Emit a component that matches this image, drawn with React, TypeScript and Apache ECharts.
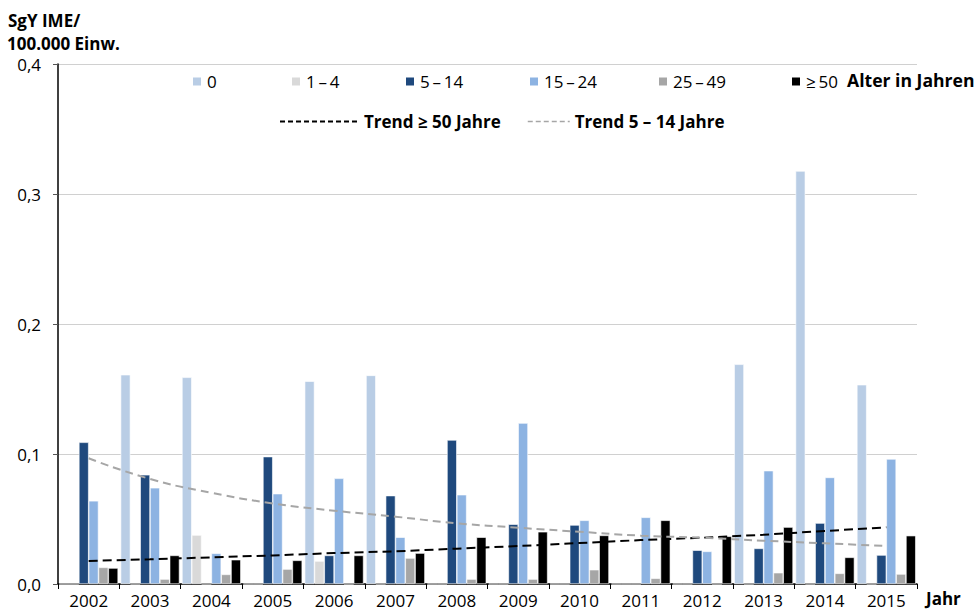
import React, { useEffect, useRef } from "react";
import * as echarts from "echarts";

const years = ["2002", "2003", "2004", "2005", "2006", "2007", "2008", "2009", "2010", "2011", "2012", "2013", "2014", "2015"];
const age0 = [0, 0.161, 0.159, 0, 0.156, 0.1605, 0, 0, 0, 0, 0, 0.169, 0.3177, 0.1533];
const age1to4 = [0, 0, 0.0377, 0, 0.0177, 0, 0, 0, 0, 0, 0, 0, 0, 0];
const age5to14 = [0.109, 0.084, 0, 0.098, 0.022, 0.068, 0.1108, 0.046, 0.0454, 0, 0.026, 0.0274, 0.0469, 0.0223];
const age15to24 = [0.064, 0.074, 0.0236, 0.0695, 0.0813, 0.036, 0.0687, 0.1238, 0.049, 0.0513, 0.0251, 0.0872, 0.082, 0.0962];
const age25to49 = [0.0128, 0.0038, 0.0074, 0.0115, 0, 0.02, 0.0038, 0.0038, 0.011, 0.0044, 0, 0.0087, 0.0082, 0.0077];
const age50plus = [0.0123, 0.022, 0.0187, 0.0182, 0.022, 0.0238, 0.036, 0.0402, 0.0374, 0.049, 0.0367, 0.0438, 0.0205, 0.0372];
const trend50 = [0.0177, 0.019, 0.0205, 0.022, 0.0238, 0.0251, 0.0272, 0.0292, 0.0315, 0.0338, 0.0356, 0.0379, 0.0408, 0.0436];
const trend5to14 = [0.0967, 0.0808, 0.0702, 0.062, 0.0564, 0.0518, 0.0467, 0.0433, 0.0402, 0.0372, 0.0356, 0.0333, 0.0313, 0.0292];
const yTicks = [0, 0.1, 0.2, 0.3, 0.4];

const barNames = ["0", "1\u2009–\u20094", "5\u2009–\u200914", "15\u2009–\u200924", "25\u2009–\u200949", "≥\u200950"];
const barData = [age0, age1to4, age5to14, age15to24, age25to49, age50plus];
const barColors = ["#b9cde5", "#d9d9d9", "#1f497d", "#8db3e2", "#a6a6a6", "#000000"];
const legendLeft = [191, 290, 404, 528, 657, 790];
const trendNames = ["Trend ≥ 50 Jahre", "Trend 5 – 14 Jahre"];

const FONT = "'Open Sans', 'Noto Sans', sans-serif";

export default function App() {
  const ref = useRef<HTMLDivElement>(null);
  useEffect(() => {
    if (!ref.current) return;
    const chart = echarts.init(ref.current, undefined, { renderer: "svg" });
    const barSeries = barNames.map((name, i) => ({
      name,
      type: "bar",
      data: barData[i],
      barGap: "0%",
      barCategoryGap: "4%",
      itemStyle: { color: barColors[i], borderColor: "#ffffff", borderWidth: 0.6 },
      z: 2,
    }));
    const legends: any[] = barNames.map((name, i) => ({
      left: legendLeft[i],
      top: 73,
      padding: 0,
      itemWidth: 10,
      itemHeight: 10,
      icon: "rect",
      data: [name],
      selectedMode: false,
      textStyle: { fontFamily: FONT, fontSize: 17, color: "#000" },
    }));
    legends.push({
      left: 279,
      top: 113,
      padding: 0,
      itemWidth: 79,
      itemHeight: 10,
      selectedMode: false,
      data: [{ name: trendNames[0], itemStyle: { opacity: 0 }, lineStyle: { type: [5, 3], width: 2, color: "#000" } }],
      textStyle: { fontFamily: FONT, fontSize: 17, fontWeight: "bold", color: "#000" },
    });
    legends.push({
      left: 527,
      top: 113,
      padding: 0,
      itemWidth: 42,
      itemHeight: 10,
      selectedMode: false,
      data: [{ name: trendNames[1], itemStyle: { opacity: 0 }, lineStyle: { type: [5, 3], width: 1.5, color: "#a6a6a6" } }],
      textStyle: { fontFamily: FONT, fontSize: 17, fontWeight: "bold", color: "#000" },
    });
    chart.setOption({
      animation: false,
      backgroundColor: "#ffffff",
      textStyle: { fontFamily: FONT },
      grid: { left: 58, right: 62, top: 64, bottom: 26, containLabel: false },
      legend: legends,
      graphic: [
        { type: "text", left: 8, top: 11, style: { text: "SgY IME/", fontFamily: FONT, fontSize: 17, lineHeight: 18, fontWeight: "bold", fill: "#000" } },
        { type: "text", left: 7, top: 34, style: { text: "100.000 Einw.", fontFamily: FONT, fontSize: 17, lineHeight: 18, fontWeight: "bold", fill: "#000" } },
        { type: "text", left: 847, top: 71, style: { text: "Alter in Jahren", fontFamily: FONT, fontSize: 17.6, fontWeight: "bold", fill: "#000" } },
        { type: "text", left: 926, top: 589, style: { text: "Jahr", fontFamily: FONT, fontSize: 17, lineHeight: 18, fontWeight: "bold", fill: "#000" } },
      ],
      xAxis: {
        type: "category",
        data: years,
        boundaryGap: true,
        axisLine: { show: true, lineStyle: { color: "#000", width: 1.5 } },
        axisTick: { show: true, length: 5, lineStyle: { color: "#000" } },
        axisLabel: { fontFamily: FONT, fontSize: 17, lineHeight: 16, color: "#000", margin: 8, interval: 0 },
      },
      yAxis: {
        type: "value",
        min: yTicks[0],
        max: yTicks[yTicks.length - 1],
        interval: 0.1,
        axisLine: { show: true, lineStyle: { color: "#000", width: 1.5 } },
        axisTick: { show: true, length: 5, lineStyle: { color: "#555" } },
        splitLine: { show: true, lineStyle: { color: "#d0d0d0", width: 1 } },
        axisLabel: {
          fontFamily: FONT,
          fontSize: 17,
          lineHeight: 17,
          color: "#000",
          margin: 17,
          formatter: (v: number) => v.toFixed(1).replace(".", ","),
        },
      },
      series: [
        ...barSeries,
        {
          name: trendNames[0],
          type: "line",
          data: trend50,
          symbol: "none",
          itemStyle: { color: "#000" },
          lineStyle: { color: "#000", width: 2, type: [9, 5] },
          z: 5,
        },
        {
          name: trendNames[1],
          type: "line",
          data: trend5to14,
          symbol: "none",
          smooth: true,
          itemStyle: { color: "#a6a6a6" },
          lineStyle: { color: "#a6a6a6", width: 2, type: [8, 5] },
          z: 5,
        },
      ],
    });
    return () => chart.dispose();
  }, []);
  return <div ref={ref} style={{ width: 979, height: 610, position: "absolute", left: 0, top: 0 }} />;
}
